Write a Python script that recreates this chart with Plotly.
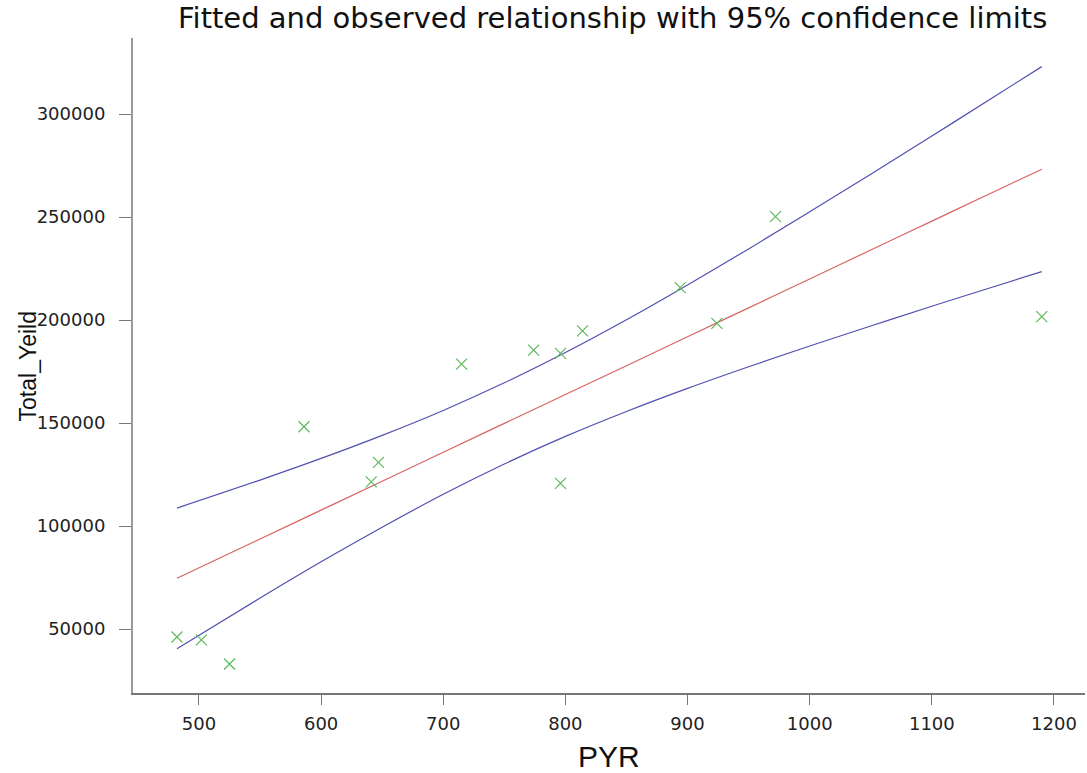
import plotly.graph_objects as go

# Observed points
pyr_obs = [482, 502, 525, 586, 641, 647, 715, 774, 796, 796, 814, 894, 924, 972, 1190]
yield_obs = [46100, 44700, 33000, 148200, 121400, 130900, 178600, 185400, 183800, 120700,
             194700, 215700, 198400, 250200, 201600]

# Fitted line and 95% confidence limits read at these PYR values
pyr_grid = [482, 550, 600, 650, 700, 750, 800, 850, 900, 950, 1000, 1050, 1100, 1150, 1190]
fit_vals = [74600, 93700, 107700, 121700, 135800, 149800, 163800, 177800, 191900, 205900,
            219900, 234000, 248000, 262000, 273200]
upper_vals = [108700, 122300, 132800, 144000, 156100, 169500, 184200, 200100, 217000, 234500,
              252500, 270800, 289300, 308000, 323000]
lower_vals = [40400, 65000, 82600, 99400, 115400, 130100, 143500, 155600, 166800, 177300,
              187400, 197100, 206700, 216000, 223500]

x_ticks = [500, 600, 700, 800, 900, 1000, 1100, 1200]
y_ticks = [50000, 100000, 150000, 200000, 250000, 300000]

fig = go.Figure()
fig.add_trace(go.Scatter(x=pyr_grid, y=fit_vals, mode="lines",
                         line=dict(color="#d96464", width=1.2, shape="spline"), showlegend=False))
fig.add_trace(go.Scatter(x=pyr_grid, y=upper_vals, mode="lines",
                         line=dict(color="#5050b0", width=1.2, shape="spline"), showlegend=False))
fig.add_trace(go.Scatter(x=pyr_grid, y=lower_vals, mode="lines",
                         line=dict(color="#5050b0", width=1.2, shape="spline"), showlegend=False))
fig.add_trace(go.Scatter(x=pyr_obs, y=yield_obs, mode="markers",
                         marker=dict(symbol="x-thin", size=11, line=dict(color="#5cb85c", width=1.2)),
                         showlegend=False))

axis_font = dict(family="DejaVu Sans", size=18, color="#222222")
fig.update_xaxes(range=[446, 1225.4], tickvals=x_ticks, ticktext=[str(v) for v in x_ticks],
                 showgrid=False, zeroline=False, showline=True, linecolor="#777777", linewidth=1.5,
                 ticks="outside", ticklen=10, tickcolor="#777777", tickfont=axis_font,
                 ticklabelstandoff=4)
fig.update_yaxes(range=[18932, 336893], tickvals=y_ticks, ticktext=[str(v) for v in y_ticks],
                 showgrid=False, zeroline=False, showline=True, linecolor="#999999", linewidth=2,
                 ticks="outside", ticklen=12, tickcolor="#777777", tickfont=axis_font,
                 ticklabelstandoff=10)

fig.update_layout(
    width=1087, height=773,
    margin=dict(l=133, r=2, t=38, b=80),
    plot_bgcolor="white", paper_bgcolor="white",
    annotations=[
        dict(text="Fitted and observed relationship with 95% confidence limits",
             xref="paper", yref="paper", x=0.504, y=1.0305, xanchor="center", yanchor="middle",
             showarrow=False, font=dict(family="DejaVu Sans", size=29, color="#111111")),
        dict(text="PYR", xref="paper", yref="paper", x=0.5, y=-0.0977,
             xanchor="center", yanchor="middle", showarrow=False,
             font=dict(family="Liberation Sans", size=30, color="#111111")),
        dict(text="Total_Yeild", xref="paper", yref="paper", x=-0.110, y=0.499,
             xanchor="center", yanchor="middle", textangle=-90, showarrow=False,
             font=dict(family="Liberation Sans", size=23, color="#111111")),
    ],
)

fig.write_html("out.html", config={"displayModeBar": False},
               post_script="document.body.style.margin='0';document.body.style.overflow='hidden';")
